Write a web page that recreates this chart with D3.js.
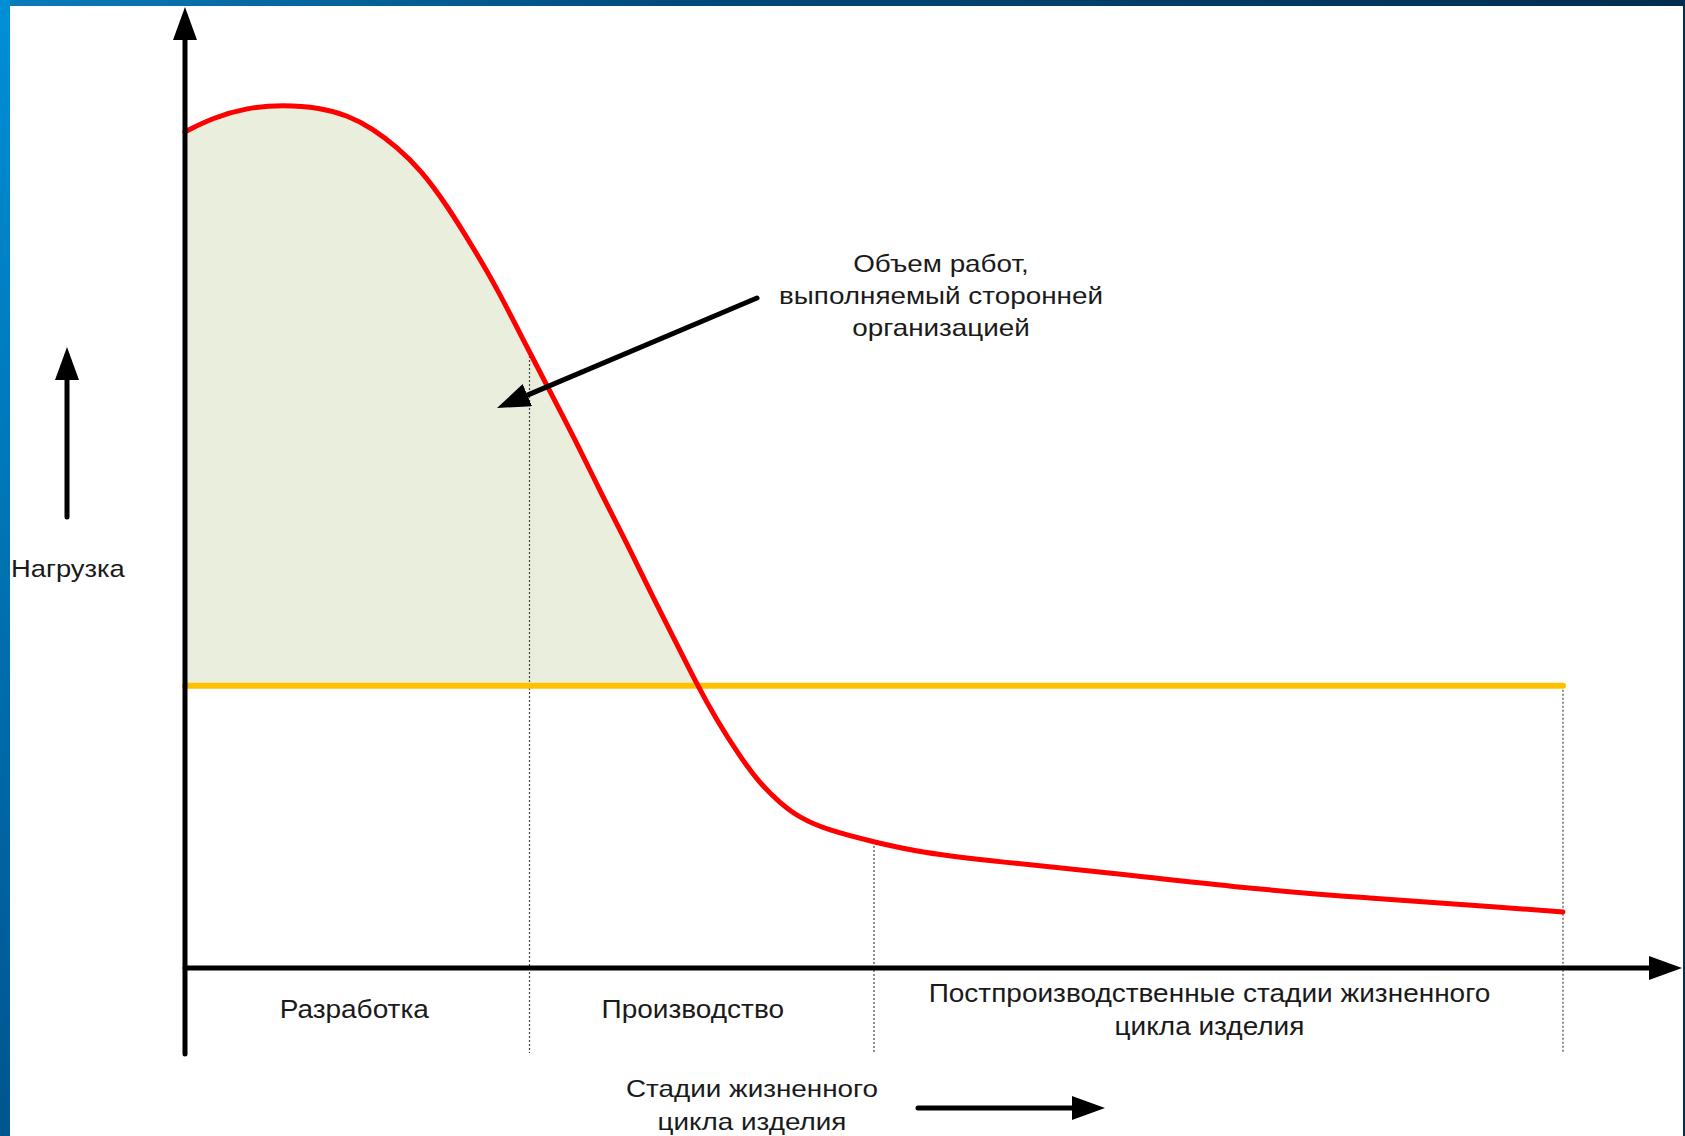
<!DOCTYPE html>
<html>
<head>
<meta charset="utf-8">
<script src="https://cdn.jsdelivr.net/npm/d3@7"></script>
<style>
    body { margin: 0; background: #fff; }
    text { font-family: 'Liberation Sans', Arial, sans-serif; fill: #1a1a1a; }
</style>
</head>
<body>
<svg id="canvas" width="1685" height="1136"></svg>
<script>
// stage boundaries along the life cycle (0..100)
let stageBounds = [0, 25, 50, 100]
let stageNames = [
    ['Разработка'],
    ['Производство'],
    ['Постпроизводственные стадии жизненного', 'цикла изделия']
]

// load curve
let loadX = [0, 2, 4.5, 7.1, 9.8, 11.8, 13.6, 15.4, 17.1, 19, 20.9, 22.6, 24.8, 26.3, 28.7, 30.1, 32.1, 33.7, 35.2, 37.2,
    38.6, 40.1, 41.7, 43.2, 44.6, 46.6, 50, 53.3, 59, 67.4, 75.8, 85.8, 95.9, 100]
let loadY = [96.9, 98.5, 99.7, 100, 99.7, 98.8, 97.3, 95.1, 92.5, 88.4, 83.5, 78.9, 72, 67.4, 60, 55.3, 49.1, 43.8, 39.1, 32.7,
    28.7, 24.9, 21.4, 19.1, 17.4, 16, 14.6, 13.4, 12.3, 11, 9.4, 8.1, 7, 6.5]

// own capacity level
let capacity = 32.7

let noteLines = ['Объем работ,', 'выполняемый сторонней', 'организацией']
let yTitle = 'Нагрузка'
let xTitle = ['Стадии жизненного', 'цикла изделия']

let canvas = d3.select('#canvas')

let x = d3.scaleLinear().domain([0, 100]).range([185, 1563])
let y = d3.scaleLinear().domain([0, 100]).range([968, 105])

let loadData = loadX.map((d, i) => ({ x: d, y: loadY[i] }))

// frame
let defs = canvas.append('defs')
let gTop = defs.append('linearGradient').attr('id', 'gTop')
gTop.append('stop').attr('offset', '0%').attr('stop-color', '#0a7cbc')
gTop.append('stop').attr('offset', '40%').attr('stop-color', '#024a7c')
gTop.append('stop').attr('offset', '100%').attr('stop-color', '#002d4f')
let gLeft = defs.append('linearGradient').attr('id', 'gLeft')
    .attr('x1', 0).attr('y1', 0).attr('x2', 0).attr('y2', 1)
gLeft.append('stop').attr('offset', '0%').attr('stop-color', '#008fd6')
gLeft.append('stop').attr('offset', '100%').attr('stop-color', '#00558e')

defs.append('marker')
    .attr('id', 'head')
    .attr('viewBox', '0 0 33 24')
    .attr('refX', 0)
    .attr('refY', 12)
    .attr('markerWidth', 33)
    .attr('markerHeight', 24)
    .attr('markerUnits', 'userSpaceOnUse')
    .attr('orient', 'auto')
    .append('path')
    .attr('d', 'M0,0 L33,12 L0,24 Z')
    .attr('fill', '#000')

defs.append('clipPath')
    .attr('id', 'aboveCap')
    .append('rect')
    .attr('x', x(0))
    .attr('y', 0)
    .attr('width', x(100) - x(0))
    .attr('height', y(capacity))

canvas.append('rect').attr('x', 0).attr('y', 0).attr('width', 1685).attr('height', 6).attr('fill', 'url(#gTop)')
canvas.append('rect').attr('x', 0).attr('y', 0).attr('width', 10).attr('height', 1136).attr('fill', 'url(#gLeft)')
canvas.append('rect').attr('x', 1683).attr('y', 0).attr('width', 2).attr('height', 1136).attr('fill', '#002f52')

// draws a line from (x1,y1) that ends with an arrow tip at (x2,y2)
let arrow = (x1, y1, x2, y2, w) => {
    let len = Math.hypot(x2 - x1, y2 - y1)
    let bx = x2 - (x2 - x1) / len * 33
    let by = y2 - (y2 - y1) / len * 33
    canvas.append('line')
        .attr('x1', x1).attr('y1', y1)
        .attr('x2', bx).attr('y2', by)
        .attr('stroke', '#000')
        .attr('stroke-width', w)
        .attr('stroke-linecap', 'round')
        .attr('marker-end', 'url(#head)')
}

// area of work done by the outside organization
let smooth = d3.curveBasis
let area = d3.area()
    .x((d) => x(d.x))
    .y0(y(capacity))
    .y1((d) => y(d.y))
    .curve(smooth)

canvas.append('path')
    .datum(loadData)
    .attr('d', area)
    .attr('fill', '#eaefdd')
    .attr('clip-path', 'url(#aboveCap)')

// dotted dividers
let loadAt = (v) => {
    let i = d3.bisectLeft(loadX, v)
    if (loadX[i] === v) return loadY[i]
    let t = (v - loadX[i - 1]) / (loadX[i] - loadX[i - 1])
    return loadY[i - 1] + t * (loadY[i] - loadY[i - 1])
}
canvas.selectAll('.divider')
    .data(stageBounds.slice(1))
    .enter()
    .append('line')
    .attr('class', 'divider')
    .attr('x1', (d) => x(d))
    .attr('x2', (d) => x(d))
    .attr('y1', (d, i) => i === stageBounds.length - 2 ? y(capacity) : y(loadAt(d)))
    .attr('y2', 1053)
    .attr('stroke', '#444')
    .attr('stroke-width', 1.2)
    .attr('stroke-dasharray', '2,2')

// capacity line
canvas.append('line')
    .attr('x1', x(0))
    .attr('x2', x(100))
    .attr('y1', y(capacity))
    .attr('y2', y(capacity))
    .attr('stroke', '#ffc000')
    .attr('stroke-width', 6)
    .attr('stroke-linecap', 'round')

// load curve
let line = d3.line()
    .x((d) => x(d.x))
    .y((d) => y(d.y))
    .curve(smooth)

canvas.append('path')
    .datum(loadData)
    .attr('d', line)
    .attr('fill', 'none')
    .attr('stroke', '#ff0000')
    .attr('stroke-width', 5)
    .attr('stroke-linecap', 'round')

// axes
arrow(x(0), 1054, x(0), 7, 5)
arrow(x(0), y(0), 1682, y(0), 5)

// side arrows
arrow(67, 517, 67, 347, 5)
arrow(918, 1108, 1105, 1108, 5)
arrow(757, 298, 497, 408, 5)

// text block, stretched a bit wider like the source
let block = (lines, cx, y0, step, size, sx, anchor) => {
    canvas.selectAll(null)
        .data(lines)
        .enter()
        .append('text')
        .attr('transform', (d, j) => 'translate(' + cx + ',' + (y0 + j * step) + ') scale(' + sx + ',1)')
        .attr('text-anchor', anchor)
        .attr('font-size', size)
        .text((d) => d)
}

// stage labels
let labelShift = [-3, -9, -9]
stageNames.forEach((lines, i) => {
    let cx = (x(stageBounds[i]) + x(stageBounds[i + 1])) / 2 + labelShift[i]
    let base = lines.length > 1 ? 1002 : 1018
    block(lines, cx, base, 33, 25, 1.12, 'middle')
})

block(noteLines, 941, 272, 32, 24, 1.16, 'middle')
block([yTitle], 11, 577, 0, 24, 1.14, 'start')
block(xTitle, 752, 1097, 33, 24, 1.16, 'middle')
</script>
</body>
</html>
